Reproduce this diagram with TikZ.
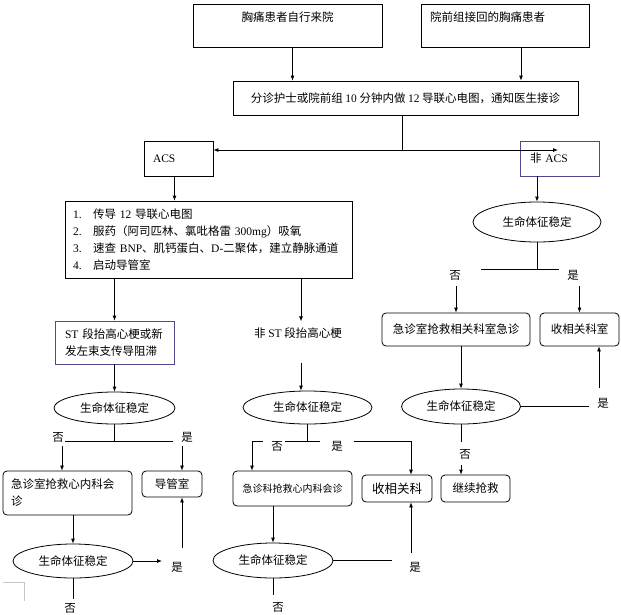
\documentclass[tikz,border=0pt]{standalone}
\usepackage{fontspec}
\setmainfont{Noto Sans CJK SC}
\newfontfamily\latinfont{Liberation Serif}
\usetikzlibrary{arrows.meta,shapes.geometric}
\definecolor{stpurple}{RGB}{84,70,140}
\newcommand{\lt}[1]{{\latinfont #1}}

\begin{document}
\begin{tikzpicture}
[x=1pt, y=-1pt,
    every node/.style={font=\fontsize{11.5}{17}\selectfont},
    line/.style={line width=0.8pt},
    arrow/.style={line, -{Latex[length=5pt,width=4pt]}},
    box/.style={draw, line width=0.8pt, inner sep=0pt},
    rbox/.style={box, rounded corners=4pt},
    oval/.style={draw, ellipse, line width=0.8pt, inner sep=0pt},
    tag/.style={inner sep=1pt}]
\useasboundingbox (0,0) rectangle (621,614);

\node [box, minimum width=189, inner ysep=2, text height=15, text depth=24] (self) at (287.5,25.5) {胸痛患者自行来院};
\node [box, text width=150, inner xsep=9, align=left, inner ysep=2, text height=15, text depth=24] (prehosp) at (505,25.5) {院前组接回的胸痛患者};
\node [box, minimum width=345, minimum height=34] (triage) at (405.5,98) {分诊护士或院前组 \lt{10} 分钟内做 \lt{12} 导联心电图，通知医生接诊};
\node [box, text width=51, inner xsep=9, align=left, minimum height=35] (acs) at (178.5,158.5) {\lt{ACS}};
\node [box, draw=stpurple, text width=59, inner xsep=10, align=left, minimum height=35] (nonacs) at (559.5,158.5) {非 \lt{ACS}};

\node [box, text width=271, inner xsep=8, align=left, minimum height=77] (steps) at (208.5,239.5)
    {\makebox[20pt][l]{\lt{1.}}传导 \lt{12} 导联心电图\\
     \makebox[20pt][l]{\lt{2.}}服药（阿司匹林、氯吡格雷 \lt{300mg}）吸氧\\
     \makebox[20pt][l]{\lt{3.}}速查 \lt{BNP}、肌钙蛋白、\lt{D-}二聚体，建立静脉通道\\
     \makebox[20pt][l]{\lt{4.}}启动导管室};
\node [box, draw=stpurple, text width=99, inner xsep=10, align=left, minimum height=43] (stemi) at (114.5,342.5) {\lt{ST} 段抬高心梗或新\\发左束支传导阻滞};
\node [tag, inner sep=6pt] (nstemi) at (298,333) {非 \lt{ST} 段抬高心梗};

\node [oval, minimum width=128, minimum height=40] (vitalA) at (537,222) {生命体征稳定};
\node [tag] (noA) at (455,275) {否};
\node [tag] (yesA) at (573,275) {是};
\node [rbox, minimum width=148, minimum height=33] (erdept) at (456,329.5) {急诊室抢救相关科室急诊};
\node [rbox, minimum width=79, minimum height=33] (admitA) at (579.5,329.5) {收相关科室};
\node [oval, minimum width=119, minimum height=35] (vitalB) at (461,406.5) {生命体征稳定};
\node [tag] (yesB) at (603,403) {是};
\node [tag] (noB) at (465,454) {否};
\node [rbox, minimum width=69, minimum height=27] (rescue) at (475.5,488.5) {继续抢救};

\node [oval, minimum width=121, minimum height=32] (vitalC) at (114.5,408) {生命体征稳定};
\node [tag] (noC) at (58,437) {否};
\node [tag] (yesC) at (187,437) {是};
\node [rbox, text width=113, inner xsep=8, align=left, minimum height=44] (cardio) at (67.5,493) {急诊室抢救心内科会\\诊};
\node [rbox, minimum width=60, minimum height=26] (cathlab) at (172,484) {导管室};
\node [oval, minimum width=120, minimum height=34] (vitalD) at (73,561) {生命体征稳定};
\node [tag] (yesD) at (177,567) {是};
\node [tag] (noD) at (70,608) {否};

\node [oval, minimum width=129, minimum height=33] (vitalE) at (307.5,407.5) {生命体征稳定};
\node [tag] (noE) at (277,446) {否};
\node [tag] (yesE) at (337,446) {是};
\node [rbox, minimum width=119, minimum height=35, font=\fontsize{10}{12}\selectfont] (cardioB) at (292.5,488.5) {急诊科抢救心内科会诊};
\node [rbox, minimum width=70, minimum height=27, font=\fontsize{12.5}{14}\selectfont] (admitB) at (397,488.5) {收相关科};
\node [oval, minimum width=120, minimum height=35] (vitalF) at (273,560.5) {生命体征稳定};
\node [tag] (yesF) at (415,567) {是};
\node [tag] (noF) at (278,607) {否};

\coordinate (split) at (402,150);
\coordinate (splitR) at (558,150);
\coordinate (forkA) at (537,269);
\coordinate (forkAl) at (481,269);
\coordinate (forkAr) at (559,269);
\coordinate (endB) at (589,406.5);
\coordinate (upB) at (599,388);
\coordinate (downB) at (461,442);
\coordinate (forkC) at (114.5,441);
\coordinate (forkCl) at (65,441);
\coordinate (forkCr) at (173,441);
\coordinate (noCa) at (62,446);
\coordinate (yesCa) at (182,446);
\coordinate (endD) at (162,561);
\coordinate (upD) at (182,548);
\coordinate (downD) at (73,599);
\coordinate (nstemiA) at (301,363);
\coordinate (forkE) at (307.5,441);
\coordinate (forkE1) at (252,441);
\coordinate (forkE2) at (263,441);
\coordinate (forkE3) at (285,441);
\coordinate (forkE4) at (320,441);
\coordinate (forkE5) at (354,441);
\coordinate (forkE6) at (411,441);
\coordinate (endF) at (392,560.5);
\coordinate (upF) at (411,553);
\coordinate (downF) at (273,595);

\draw [arrow] ([xshift=5pt]self.south) -- ([xshift=5pt]self.south |- triage.north);
\draw [arrow] ([xshift=16pt]prehosp.south) -- ([xshift=16pt]prehosp.south |- triage.north);
\draw [line] (triage.south -| split) -- (split);
\draw [arrow] (split) -- (split -| acs.east);
\draw [arrow] (split) -- (splitR);
\draw [arrow] ([xshift=-4pt]acs.south) -- ([xshift=-4pt]acs.south |- steps.north);
\draw [arrow] (nonacs.south -| vitalA.north) -- (vitalA.north);

\draw [line] (vitalA.south) -- (forkA);
\draw [line] (forkAl) -- (forkAr);
\draw [arrow] ([yshift=-5pt]noA.south -| erdept.north) -- (erdept.north);
\draw [arrow] ([yshift=-5pt]yesA.south -| admitA.north) -- (admitA.north);
\draw [arrow] (erdept.south -| vitalB.north) -- (vitalB.north);
\draw [line] (vitalB.east) -- (endB);
\draw [arrow] (upB) -- (upB |- admitA.south);
\draw [line] (vitalB.south) -- (downB);
\draw [arrow] ([yshift=-5pt]noB.south -| downB) -- (downB |- rescue.north);

\draw [arrow] (steps.south -| stemi.south) -- (stemi.north);
\draw [arrow] (steps.south -| nstemiA) -- (nstemi.north -| nstemiA);
\draw [arrow] (stemi.south) -- (vitalC.north);
\draw [line] (vitalC.south) -- (forkC);
\draw [line] (forkCl) -- (forkCr);
\draw [arrow] (noCa) -- (noCa |- cardio.north);
\draw [arrow] (yesCa) -- (yesCa |- cathlab.north);
\draw [arrow] (cardio.south -| vitalD.north) -- (vitalD.north);
\draw [arrow] (vitalD.east) -- (endD);
\draw [arrow] (upD) -- (upD |- cathlab.south);
\draw [line] (vitalD.south) -- (downD);

\draw [arrow] (nstemiA) -- (nstemiA |- vitalE.north);
\draw [line] (vitalE.south) -- (forkE);
\draw [line] (forkE1) -- (forkE2);
\draw [line] (forkE3) -- (forkE4);
\draw [arrow] (forkE5) -- (forkE6) -- (forkE6 |- admitB.north);
\draw [arrow] (forkE1) -- (forkE1 |- cardioB.north);
\draw [arrow] (cardioB.south -| vitalF.north) -- (vitalF.north);
\draw [line] (vitalF.east) -- (endF);
\draw [arrow] (upF) -- (upF |- admitB.south);
\draw [line] (vitalF.south) -- (downF);

\draw [gray!45, line width=0.8pt] (3,582) -- (24,582) -- (24,601);
\end{tikzpicture}
\end{document}
